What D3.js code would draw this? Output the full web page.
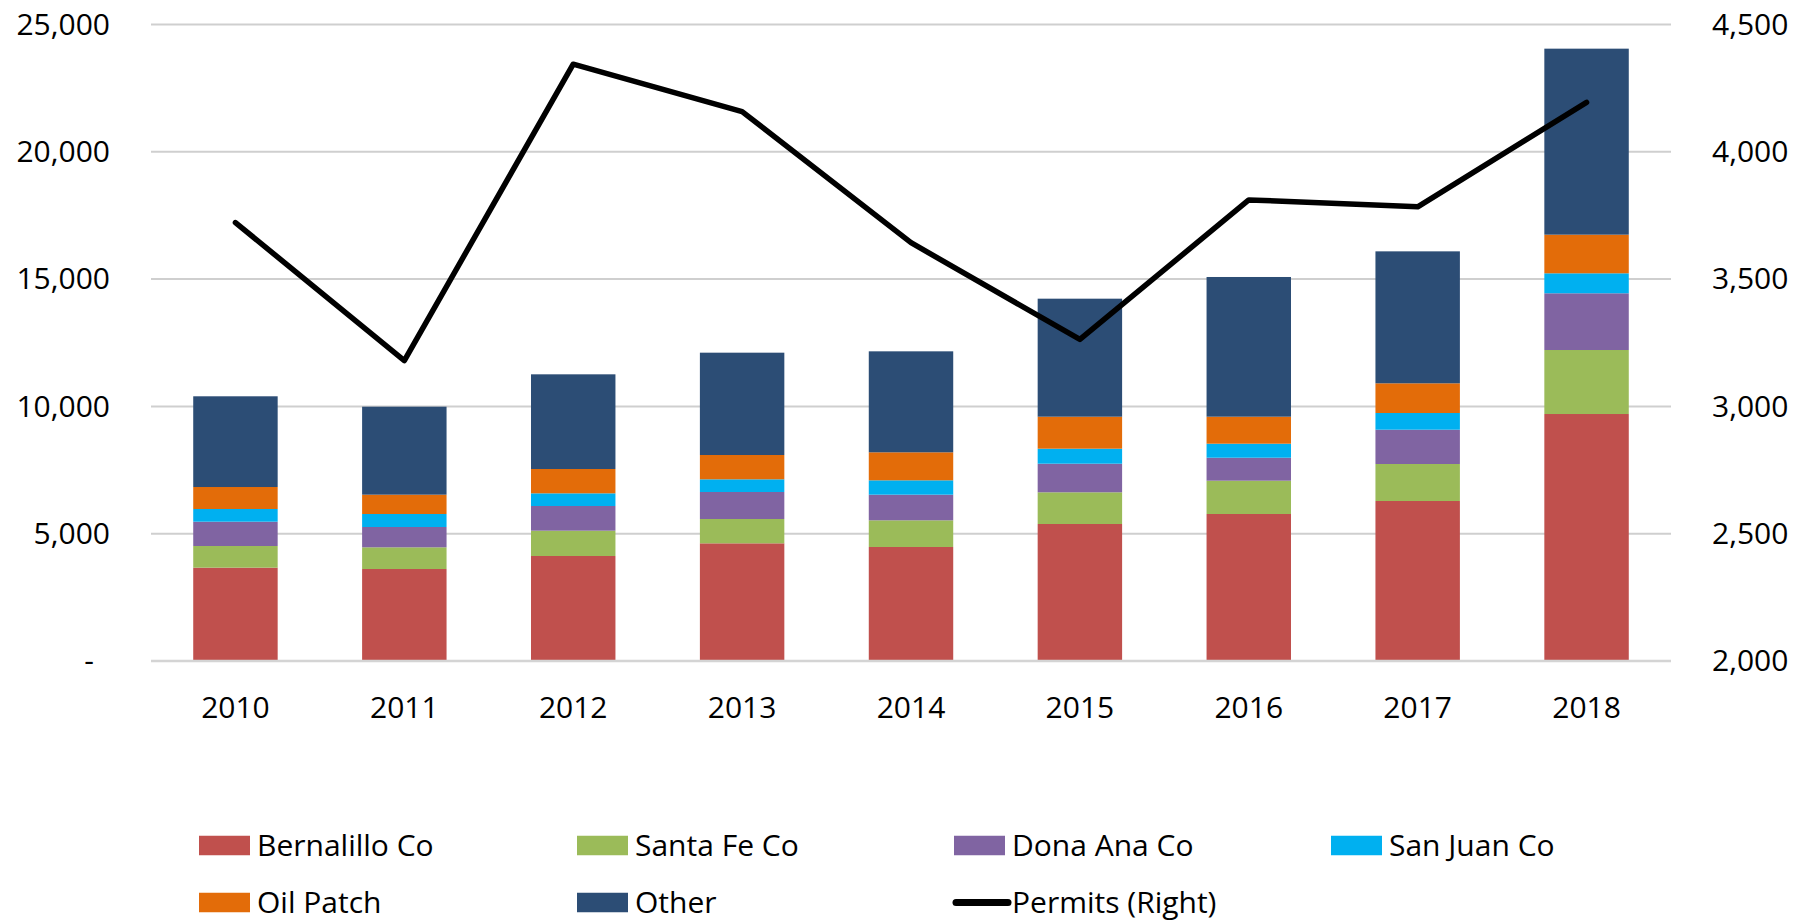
<!DOCTYPE html>
<html>
<head>
<meta charset="utf-8">
<script src="https://cdn.jsdelivr.net/npm/d3@7"></script>
<style>
  html, body { margin: 0; padding: 0; background: #fff; }
  svg { display: block; }
  text { font-family: "Open Sans", sans-serif; fill: #000; }
</style>
</head>
<body>
<svg id="chart" width="1796" height="923"></svg>
<script>
const years = ["2010","2011","2012","2013","2014","2015","2016","2017","2018"];
const seriesNames = ["Bernalillo Co","Santa Fe Co","Dona Ana Co","San Juan Co","Oil Patch","Other"];
const seriesColors = ["#C0504D","#9BBB59","#8064A2","#00B0F0","#E36C09","#2C4D75"];
const bernalillo = [3666, 3613, 4124, 4622, 4478, 5381, 5774, 6284, 9701];
const santaFe    = [ 851,  852,  995,  955, 1048, 1245, 1308, 1454, 2514];
const donaAna    = [ 955,  798,  969, 1061, 1007, 1124,  903, 1348, 2228];
const sanJuan    = [ 498,  511,  498,  498,  564,  589,  550,  655,  785];
const oilPatch   = [ 864,  759,  955,  955, 1100, 1257, 1061, 1166, 1517];
const other      = [3563, 3456, 3719, 4019, 3966, 4635, 5487, 5183, 7306];
const permits    = [3722, 3180, 4344, 4158, 3643, 3263, 3811, 3784, 4194];
const leftTicks  = [0, 5000, 10000, 15000, 20000, 25000];
const rightTicks = [2000, 2500, 3000, 3500, 4000, 4500];
const lineName = "Permits (Right)";

const seriesValues = [bernalillo, santaFe, donaAna, sanJuan, oilPatch, other];
const table = years.map((y, i) => {
  const row = { year: y };
  seriesNames.forEach((s, k) => row[s] = seriesValues[k][i]);
  return row;
});

const svg = d3.select("#chart");
const L = 151, R = 1671, T = 24.5, B = 661;

const x = d3.scaleBand().domain(years).range([L, R]).paddingInner(0.5).paddingOuter(0.25);
const yL = d3.scaleLinear().domain([0, 25000]).range([B, T]);
const yR = d3.scaleLinear().domain([2000, 4500]).range([B, T]);

// gridlines
svg.append("g").selectAll("line").data(leftTicks.filter(d => d > 0)).join("line")
  .attr("x1", L).attr("x2", R)
  .attr("y1", d => yL(d)).attr("y2", d => yL(d))
  .attr("stroke", "#cfcfcf").attr("stroke-width", 2);

// stacked bars
const stack = d3.stack().keys(seriesNames)(table);
svg.append("g").selectAll("g").data(stack).join("g")
  .attr("fill", (d, i) => seriesColors[i])
  .selectAll("rect").data(d => d).join("rect")
  .attr("x", d => x(d.data.year))
  .attr("width", x.bandwidth())
  .attr("y", d => yL(d[1]))
  .attr("height", d => yL(d[0]) - yL(d[1]));

// baseline
svg.append("line").attr("x1", L).attr("x2", R).attr("y1", B).attr("y2", B)
  .attr("stroke", "#d4d4d4").attr("stroke-width", 2.5);

// left axis
const fmt = d3.format(",");
const axL = svg.append("g").attr("transform", `translate(${L},0)`)
  .call(d3.axisLeft(yL).tickValues(leftTicks).tickSize(0).tickPadding(41)
    .tickFormat(d => d === 0 ? "-" : fmt(d)));
axL.select(".domain").remove();
axL.selectAll("text").style("font-size", "30px").style("font-family", "'Open Sans', sans-serif")
  .attr("dx", d => d === 0 ? -16 : 0);

// right axis
const axR = svg.append("g").attr("transform", `translate(${R},0)`)
  .call(d3.axisRight(yR).tickValues(rightTicks).tickSize(0).tickPadding(41).tickFormat(fmt));
axR.select(".domain").remove();
axR.selectAll("text").style("font-size", "30px").style("font-family", "'Open Sans', sans-serif");

// bottom axis
const axB = svg.append("g").attr("transform", `translate(0,${B})`)
  .call(d3.axisBottom(x).tickSize(0).tickPadding(36));
axB.select(".domain").remove();
axB.selectAll("text").style("font-size", "30px").style("font-family", "'Open Sans', sans-serif");

// permits line
const line = d3.line().x((d, i) => x(years[i]) + x.bandwidth() / 2).y(d => yR(d));
svg.append("path").datum(permits).attr("d", line)
  .attr("fill", "none").attr("stroke", "#000").attr("stroke-width", 5.5)
  .attr("stroke-linejoin", "round").attr("stroke-linecap", "round");

// legend
const legendItems = seriesNames.map((n, i) => ({ name: n, color: seriesColors[i], type: "rect" }));
legendItems.push({ name: lineName, color: "#000", type: "line" });
const colX = [199, 577, 954, 1331];
const rowY = [845.5, 902.5];
const lg = svg.append("g");
legendItems.forEach((it, i) => {
  const cx = colX[i % 4], cy = rowY[Math.floor(i / 4)];
  const g = lg.append("g").attr("transform", `translate(${cx},${cy})`);
  if (it.type === "rect") {
    g.append("rect").attr("x", 0).attr("y", -9.75).attr("width", 51).attr("height", 19.5).attr("fill", it.color);
  } else {
    g.append("line").attr("x1", 2).attr("x2", 54).attr("y1", 0).attr("y2", 0)
      .attr("stroke", "#000").attr("stroke-width", 7).attr("stroke-linecap", "round");
  }
  g.append("text").attr("x", 58).attr("y", 0).attr("dy", "0.35em")
    .style("font-size", "30px").text(it.name);
});
</script>
</body>
</html>
